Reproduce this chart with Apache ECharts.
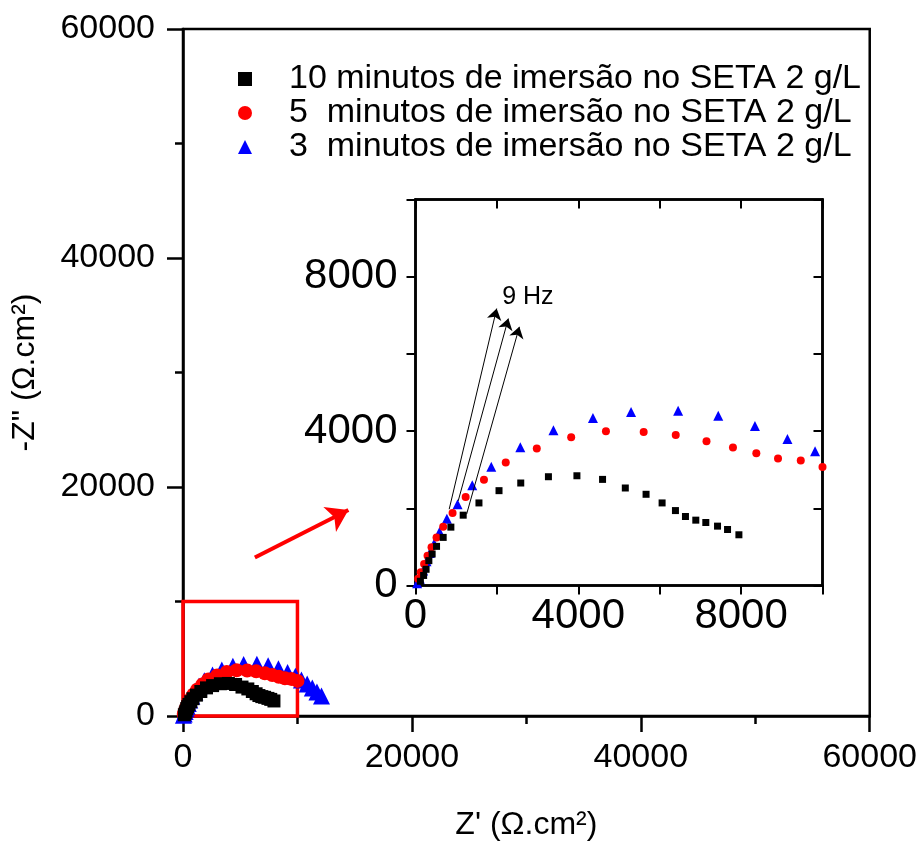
<!DOCTYPE html>
<html><head><meta charset="utf-8">
<script src="https://cdn.jsdelivr.net/npm/echarts@6/dist/echarts.min.js"></script>
<style>html,body{margin:0;padding:0;background:#fff}#c{width:920px;height:846px}</style>
</head><body><div id="c"></div>
<script>
const seriesNames = ['10 minutos de imersão no SETA 2 g/L', '5  minutos de imersão no SETA 2 g/L', '3  minutos de imersão no SETA 2 g/L'];
const data10 = [[120,110],[200,260],[260,420],[328,644],[409,816],[517,1014],[680,1246],[869,1512],[1172,1822],[1559,2139],[2052,2457],[2586,2655],[3266,2818],[3966,2843],[4596,2749],[5155,2526],[5665,2363],[6059,2139],[6387,1941],[6633,1787],[6887,1693],[7133,1632],[7421,1538],[7667,1451],[7946,1314]];
const data5 = [[65,172],[130,343],[212,559],[296,773],[394,988],[517,1246],[680,1521],[911,1881],[1232,2294],[1682,2741],[2217,3187],[2980,3548],[3825,3840],[4679,3995],[5606,3978],[6394,3900],[7150,3737],[7800,3574],[8374,3428],[8907,3290],[9466,3239],[10000,3067]];
const data3 = [[40,60],[106,172],[187,387],[271,626],[352,843],[458,1090],[591,1392],[771,1727],[1034,2106],[1394,2595],[1862,3075],[2576,3582],[3389,4021],[4360,4338],[5296,4492],[6453,4528],[7438,4399],[8340,4132],[9138,3797],[9818,3479],[10350,3150],[10850,2800],[11300,2450],[11700,2100],[12100,1750]];
const mainRange = [0, 60000];
const mainInterval = 20000;
const insetRange = [0, 10000];
const insetInterval = 2000;
const insetLabelStep = 4000;
const zoomBox = [[0, 0], [10000, 10000]];
const redArrow = [[6279, 13840], [14450, 17990]];
const hzArrows = [[[828, 1977], [1995, 7173]], [[1049, 2191], [2281, 6915]], [[1256, 1848], [2552, 6701]]];
const hzLabel = { text: '9 Hz', at: [2760, 7480] };
const xTitle = "Z' (Ω.cm²)";
const yTitle = '-Z" (Ω.cm²)';

const FONT = "'Liberation Sans', Arial, sans-serif";
const colors = ['#000000', '#ff0000', '#0000ff'];
const symbols = ['rect', 'circle', 'triangle'];
const mainSizes = [13, 14, 17];
const insetSizes = [7, 8, 10];
const datasets = [data10, data5, data3];

const chart = echarts.init(document.getElementById('c'), null, { renderer: 'canvas' });

function mainAxis(pos) {
  return {
    type: 'value', gridIndex: 0, position: pos,
    min: mainRange[0], max: mainRange[1], interval: mainInterval,
    axisLine: { show: true, onZero: false, lineStyle: { color: '#000', width: 2.5 } },
    axisTick: { show: true, inside: false, length: 16, lineStyle: { color: '#000', width: 2.5 } },
    minorTick: { show: true, splitNumber: 2, length: 8, lineStyle: { color: '#000', width: 2.5 } },
    splitLine: { show: false }, minorSplitLine: { show: false },
    axisLabel: { fontSize: 34, color: '#000', fontFamily: FONT, margin: pos === 'left' ? 28 : 25, formatter: v => String(v) }
  };
}
function insetAxis(pos, labels) {
  return {
    type: 'value', gridIndex: 1, position: pos,
    min: insetRange[0], max: insetRange[1], interval: insetInterval,
    axisLine: { show: true, onZero: false, lineStyle: { color: '#000', width: 2.5 } },
    axisTick: { show: true, inside: !labels, length: 9, lineStyle: { color: '#000', width: 2 } },
    splitLine: { show: false },
    axisLabel: {
      show: labels, fontSize: 42, color: '#000', fontFamily: FONT, margin: pos === 'left' ? 18 : 10,
      formatter: v => (v % insetLabelStep === 0 && v < insetRange[1]) ? String(v) : ''
    }
  };
}

const series = [];
[2, 1, 0].forEach(i => {
  const s = {
    name: seriesNames[i], type: 'scatter', xAxisIndex: 0, yAxisIndex: 0,
    symbol: symbols[i], symbolSize: mainSizes[i], data: datasets[i],
    itemStyle: { color: colors[i], opacity: 1 }, z: 3 + (2 - i), silent: true
  };
  if (i === 2) {
    s.markArea = {
      silent: true,
      itemStyle: { color: 'rgba(0,0,0,0)', borderColor: '#ff0000', borderWidth: 3.5 },
      data: [[{ coord: zoomBox[0] }, { coord: zoomBox[1] }]]
    };
    s.markLine = {
      silent: true, symbol: ['none', 'arrow'], symbolSize: 21,
      lineStyle: { color: '#ff0000', width: 4, type: 'solid', opacity: 1 },
      itemStyle: { color: '#ff0000' },
      label: { show: false },
      data: [[{ coord: redArrow[0] }, { coord: redArrow[1] }]]
    };
  }
  series.push(s);
});
[2, 1, 0].forEach(i => {
  const s = {
    name: seriesNames[i], type: 'scatter', xAxisIndex: 1, yAxisIndex: 1,
    symbol: symbols[i], symbolSize: insetSizes[i], data: datasets[i],
    itemStyle: { color: colors[i], opacity: 1 }, z: 3 + (2 - i), silent: true, clip: true
  };
  if (i === 0) {
    s.markLine = {
      silent: true, symbol: ['none', 'arrow'], symbolSize: 11,
      lineStyle: { color: '#000', width: 1, type: 'solid', opacity: 1 },
      itemStyle: { color: '#000' },
      label: { show: false },
      data: hzArrows.map(a => [{ coord: a[0] }, { coord: a[1] }])
    };
    s.markPoint = {
      silent: true, symbol: 'rect', symbolSize: 1,
      itemStyle: { color: 'rgba(0,0,0,0)' },
      label: { show: true, position: 'inside', formatter: hzLabel.text, fontSize: 25, color: '#000', fontFamily: FONT },
      data: [{ coord: hzLabel.at }]
    };
  }
  series.push(s);
});

chart.setOption({
  animation: false,
  backgroundColor: '#fff',
  grid: [
    { left: 183, top: 29, width: 688, height: 688, show: true, borderColor: '#000', borderWidth: 2.5, backgroundColor: 'rgba(0,0,0,0)' },
    { left: 415.5, top: 199.5, width: 407, height: 386, show: true, borderColor: '#000', borderWidth: 2.5, backgroundColor: '#fff' }
  ],
  legend: {
    orient: 'vertical', left: 233, top: 57, itemGap: 0,
    itemWidth: 14, itemHeight: 14,
    data: seriesNames,
    selectedMode: false,
    itemStyle: { opacity: 1 },
    textStyle: { fontSize: 34, color: '#000', fontFamily: FONT, lineHeight: 31, padding: [0, 0, 0, 32] }
  },
  xAxis: [
    Object.assign(mainAxis('bottom'), { name: xTitle, nameLocation: 'middle', nameGap: 93, nameTextStyle: { fontSize: 32, color: '#000', fontFamily: FONT } }),
    insetAxis('bottom', true),
    insetAxis('top', false)
  ],
  yAxis: [
    Object.assign(mainAxis('left'), { name: yTitle, nameLocation: 'middle', nameGap: 142, nameRotate: 90, nameTextStyle: { fontSize: 32, color: '#000', fontFamily: FONT } }),
    insetAxis('left', true),
    insetAxis('right', false)
  ],
  series: series
});
</script></body></html>
